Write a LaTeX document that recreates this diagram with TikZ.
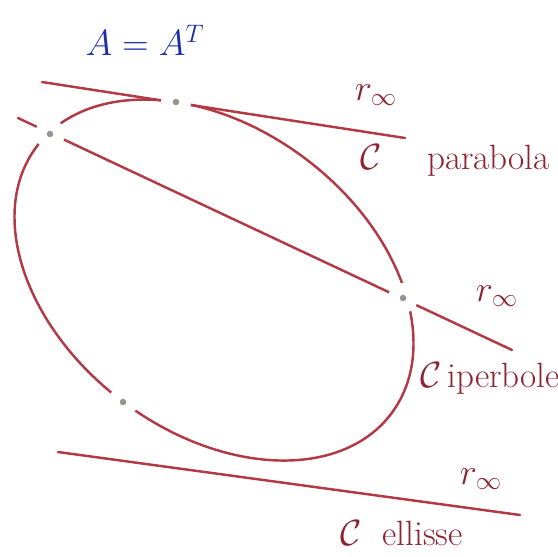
\documentclass[tikz,border=0pt]{standalone}
\usepackage{amsmath,amssymb}
\usepackage{xcolor}
\usepackage{tikz}
\usetikzlibrary{arrows.meta,positioning,calc}
\definecolor{conicred}{RGB}{178,58,68}
\definecolor{inkred}{RGB}{140,35,50}
\definecolor{inkblue}{RGB}{25,45,165}
\definecolor{dotgray}{RGB}{150,148,140}

\begin{document}
\begin{tikzpicture}[x=0.02cm,y=-0.02cm]
  \tikzstyle{conic}=[conicred,line width=1.4pt,line cap=round]
  \tikzstyle{gap}=[circle,fill=white,minimum size=0.6cm,inner sep=0pt]
  \tikzstyle{lab}=[inkred,font=\fontsize{20}{22}\selectfont]
  \useasboundingbox (0,0) rectangle (558,556);
  % centre of the conic and ends of the three lines
  \coordinate (O) at (214,280);
  \coordinate (ta) at (42,82);
  \coordinate (tb) at (405,138);
  \coordinate (sa) at (18,118);
  \coordinate (sb) at (512,350);
  \coordinate (ea) at (58,452);
  \coordinate (eb) at (520,515);
  \draw[conic,rotate around={-37:(O)}] (O) ellipse [x radius=4.44cm,y radius=3.04cm];
  \draw[conic] (ta) -- (tb);
  \draw[conic] (sa) -- (sb);
  \draw[conic] (ea) -- (eb);
  % marked points
  \node[gap] (T) at (176,102) {};
  \node[gap] (S1) at (50,134) {};
  \node[gap] (S2) at (403,298) {};
  \node[gap] (E) at (123,402) {};
  \foreach \p in {T,S1,S2,E}
    \fill[dotgray] (\p) circle (0.065cm);
  % labels
  \node[inkblue,font=\fontsize{21}{24}\selectfont] (eq) at (145,40) {$A = A^{T}$};
  \node[lab] (r1) at (376,95) {$r_\infty$};
  \node[lab,anchor=west] (c1) at (354,160) {$\mathcal{C}$\quad\ parabola};
  \node[lab] (r2) at (497,296) {$r_\infty$};
  \node[lab,anchor=west] (c2) at (414,378) {$\mathcal{C}$\,iperbole};
  \node[lab] (r3) at (481,479) {$r_\infty$};
  \node[lab,anchor=west,inner sep=1pt] (c3) at (338,533) {$\mathcal{C}$\ \ ellisse};
\end{tikzpicture}
\end{document}
